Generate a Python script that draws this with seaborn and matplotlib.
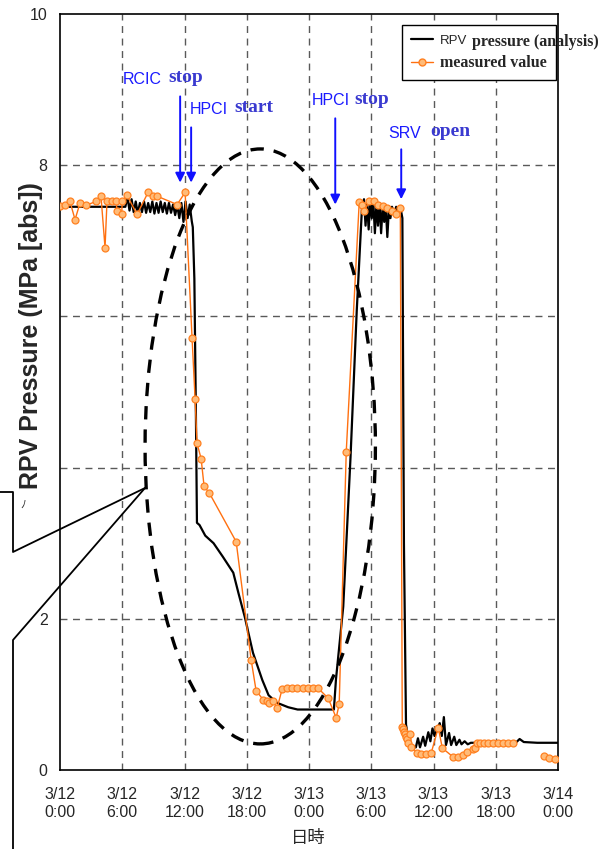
import matplotlib
matplotlib.use("Agg")
import matplotlib.pyplot as plt
import pandas as pd
import seaborn as sns
from matplotlib.lines import Line2D
from matplotlib.patches import Ellipse

sns.set_style("white")
plt.rcParams["font.family"] = ["Liberation Sans", "Noto Sans CJK JP", "DejaVu Sans"]

W, H = 598, 849

# ---- data (hours since 3/12 0:00, MPa abs) ----
analysis_hours = [
    0.0, 5.5, 6.0, 6.3, 6.5, 6.7, 6.9, 7.1, 7.3, 7.5, 7.7, 7.9, 8.1, 8.3, 8.5,
    8.7, 8.9, 9.1, 9.3, 9.5, 9.7, 9.9, 10.1, 10.3, 10.5, 10.7, 10.9, 11.1, 11.3,
    11.5, 11.7, 11.9, 12.1, 12.3, 12.5, 12.7, 12.8, 12.95, 13.1, 13.2, 13.45,
    14.0, 14.8, 15.7, 16.7, 17.2, 17.8, 18.6, 19.5, 20.1, 20.9, 22.0, 22.9,
    26.4, 26.6, 27.3, 28.0, 28.6, 29.1, 29.3, 29.45, 29.6, 29.75, 29.9, 30.05,
    30.2, 30.35, 30.5, 30.65, 30.8, 30.95, 31.1, 31.25, 31.4, 31.55, 31.7,
    31.85, 32.0, 32.2, 32.4, 32.6, 32.8, 33.0, 33.15, 33.35, 33.6, 34.0, 34.3,
    34.5, 34.7, 35.0, 35.2, 35.5, 35.7, 35.9, 36.1, 36.3, 36.6, 36.8, 37.0,
    37.2, 37.5, 37.7, 38.0, 38.2, 38.5, 38.7, 39.0, 39.3, 39.6, 40.0, 41.0,
    43.0, 44.0, 44.3, 44.7, 46.0, 48.0,
]
analysis_mpa = [
    7.45, 7.45, 7.45, 7.45, 7.58, 7.40, 7.55, 7.38, 7.52, 7.36, 7.50, 7.38,
    7.52, 7.37, 7.50, 7.38, 7.52, 7.36, 7.50, 7.37, 7.52, 7.38, 7.50, 7.36,
    7.50, 7.37, 7.48, 7.34, 7.47, 7.30, 7.50, 7.25, 7.52, 7.30, 7.48, 7.26,
    7.18, 6.50, 4.70, 3.27, 3.24, 3.10, 3.00, 2.82, 2.61, 2.34, 2.03, 1.55,
    1.19, 0.99, 0.89, 0.83, 0.80, 0.80, 1.20, 2.16, 4.13, 6.07, 7.42, 7.55,
    7.20, 7.50, 7.15, 7.55, 7.30, 7.52, 7.10, 7.48, 7.20, 7.50, 7.10, 7.45,
    7.25, 7.45, 7.05, 7.42, 7.30, 7.45, 7.35, 7.45, 7.38, 7.45, 7.30, 3.00,
    0.60, 0.40, 0.30, 0.30, 0.42, 0.30, 0.44, 0.32, 0.50, 0.38, 0.55, 0.45,
    0.52, 0.62, 0.45, 0.70, 0.33, 0.49, 0.33, 0.44, 0.33, 0.40, 0.34, 0.38,
    0.34, 0.36, 0.36, 0.37, 0.37, 0.37, 0.41, 0.37, 0.36, 0.36,
]

measured_hours = [
    0.00, 0.48, 0.96, 1.45, 1.93, 2.51, 3.47, 3.95, 4.34, 4.53, 5.02, 5.40,
    5.50, 5.95, 6.00, 6.46, 7.43, 8.49, 8.97, 9.36, 11.29, 12.06, 12.73, 13.02,
    13.21, 13.60, 13.89, 14.37, 16.98, 18.42, 18.90, 19.58, 19.97, 20.16,
    20.55, 20.93, 21.41, 21.90, 22.38, 22.86, 23.44, 23.92, 24.40, 24.89,
    25.85, 26.62, 26.91, 27.59, 28.84, 29.13, 29.32, 29.81, 30.29, 30.67,
    31.16, 31.54, 32.02, 32.41, 32.80, 32.99, 33.09, 33.18, 33.28, 33.38,
    33.47, 33.57, 33.76, 33.86, 34.44, 34.82, 35.30, 35.79, 36.46, 36.85,
    37.91, 38.39, 38.87, 39.26, 39.84, 40.03, 40.22, 40.51, 40.90, 41.28,
    41.77, 42.25, 42.73, 43.21, 43.70,
    46.69, 47.17, 47.75,
]
measured_mpa = [
    7.46, 7.47, 7.52, 7.28, 7.50, 7.47, 7.52, 7.59, 6.91, 7.52, 7.52, 7.52,
    7.40, 7.36, 7.53, 7.60, 7.35, 7.64, 7.59, 7.59, 7.48, 7.64, 5.71, 4.91,
    4.32, 4.12, 3.75, 3.67, 3.02, 1.46, 1.05, 0.93, 0.91, 0.89, 0.91, 0.82,
    1.07, 1.08, 1.08, 1.08, 1.08, 1.08, 1.08, 1.08, 0.95, 0.69, 0.87, 4.21,
    7.51, 7.47, 7.39, 7.52, 7.52, 7.47, 7.46, 7.44, 7.39, 7.36, 7.43, 0.57,
    0.54, 0.50, 0.48, 0.44, 0.41, 0.36, 0.48, 0.30, 0.23, 0.21, 0.21, 0.23,
    0.56, 0.29, 0.17, 0.17, 0.20, 0.24, 0.28, 0.29, 0.36, 0.36, 0.36, 0.36,
    0.36, 0.36, 0.36, 0.36, 0.36,
    0.19, 0.16, 0.15,
]
measured_break = 89  # the record has a gap after this point

x_ticks = [0, 6, 12, 18, 24, 30, 36, 42, 48]
x_labels = ["3/12\n0:00", "3/12\n6:00", "3/12\n12:00", "3/12\n18:00",
            "3/13\n0:00", "3/13\n6:00", "3/13\n12:00", "3/13\n18:00",
            "3/14\n0:00"]
y_ticks = [0, 2, 4, 6, 8, 10]
y_labels = ["0", "2", "", "", "8", "10"]

events = [  # (arrow hour, arrow top, arrow tip, label1, label2, label x, label y, word x)
    (11.58, 8.91, 7.77, "RCIC", "stop", 6.08, 9.14, 10.42),
    (12.64, 8.50, 7.77, "HPCI", "start", 12.54, 8.74, 16.78),
    (26.53, 8.62, 7.48, "HPCI", "stop", 24.31, 8.85, 28.36),
    (32.89, 8.21, 7.55, "SRV", "open", 31.64, 8.42, 35.69),
]

analysis = pd.DataFrame({"hour": analysis_hours, "mpa": analysis_mpa})
measured = pd.DataFrame({"hour": measured_hours, "mpa": measured_mpa})


def px(x, y):
    return x / W, 1 - y / H


fig = plt.figure(figsize=(W / 100, H / 100), dpi=100)
ax = fig.add_axes([60 / W, 1 - 770 / H, 498 / W, 756 / H])

grid_kw = dict(color="0.35", lw=1.0, ls=(0, (5, 4)), zorder=0)
for gx in x_ticks[1:-1]:
    ax.axvline(gx, **grid_kw)
for gy in [2, 4, 6, 8]:
    ax.axhline(gy, **grid_kw)

sns.lineplot(data=analysis, x="hour", y="mpa", ax=ax, color="black",
             lw=1.6, estimator=None, sort=False, zorder=3)
mk = dict(color="#ff7010", lw=1.0, marker="o", markersize=5,
          markerfacecolor="#ffbb78", markeredgecolor="#ff8020",
          markeredgewidth=0.9, estimator=None, sort=False, zorder=4)
sns.lineplot(data=measured.iloc[:measured_break], x="hour", y="mpa", ax=ax, **mk)
sns.lineplot(data=measured.iloc[measured_break:], x="hour", y="mpa", ax=ax, **mk)

ax.add_patch(Ellipse((19.3, 4.28), 22.2, 7.87, fill=False, color="black",
                     lw=2.4, ls=(0, (4, 3)), zorder=5))

for hx, top, tip, lab1, lab2, tx, ty, wx in events:
    ax.annotate("", xy=(hx, tip), xytext=(hx, top),
                arrowprops=dict(arrowstyle="-|>", color="#1010ff", lw=1.4,
                                mutation_scale=14, shrinkA=0, shrinkB=0),
                zorder=6)
    ax.text(tx, ty, lab1, color="#1a1aff", fontsize=11.5, va="center",
            family="Liberation Sans")
    ax.text(wx, ty + 0.02, lab2, color="#3a3ad0", fontsize=14, va="center",
            family="Liberation Serif", fontweight="bold")

ax.set_xlim(0, 48)
ax.set_ylim(0, 10)
ax.set_xticks(x_ticks)
ax.set_xticklabels(x_labels, fontsize=11.5, linespacing=1.3)
ax.set_yticks(y_ticks)
ax.set_yticklabels(y_labels, fontsize=11.5)
ax.tick_params(axis="both", direction="in", length=5, width=1, color="black",
               pad=12)
ax.tick_params(axis="y", length=0, pad=9)
for s in ax.spines.values():
    s.set_color("black")
    s.set_linewidth(1.2)
ax.set_xlabel("")
ax.set_ylabel("")

fig.text(*px(308, 838), "日時", fontsize=12.5, ha="center", va="center",
         family=["Noto Sans CJK JP", "DejaVu Sans"])
fig.text(*px(31, 336), "RPV Pressure (MPa [abs])", fontsize=18,
         fontweight="bold", rotation=90, ha="center", va="center")

# legend
handles = [Line2D([], [], color="black", lw=1.6),
           Line2D([], [], color="#ff7010", lw=1.0, marker="o", markersize=5,
                  markerfacecolor="#ffbb78", markeredgecolor="#ff8020")]
leg = fig.legend(handles, ["RPV", "measured value"], loc="upper left",
                 bbox_to_anchor=px(402, 25), borderaxespad=0, frameon=True,
                 fancybox=False, edgecolor="black", framealpha=1,
                 handlelength=1.6, handletextpad=0.5, borderpad=0.65,
                 labelspacing=0.6)
leg.get_frame().set_linewidth(1.0)
leg.get_texts()[0].set_fontsize(9.5)
leg.get_texts()[1].set_fontfamily("Liberation Serif")
leg.get_texts()[1].set_fontweight("bold")
leg.get_texts()[1].set_fontsize(11.5)
fig.text(*px(472, 42), "pressure (analysis)", fontsize=11.5,
         family="Liberation Serif", fontweight="bold", va="center",
         zorder=10)

# callout lines on the left edge
for xs, ys in [([0, 13, 13, 145], [492, 492, 552, 488]),
               ([145, 13, 13], [488, 640, 849])]:
    fig.add_artist(Line2D([x / W for x in xs], [1 - y / H for y in ys],
                          color="black", lw=1.3))
fig.text(*px(23, 505), "ﾉ", fontsize=8, ha="center", va="center",
         family=["Noto Sans CJK JP", "DejaVu Sans"])

fig.savefig("out.png", dpi=100)
